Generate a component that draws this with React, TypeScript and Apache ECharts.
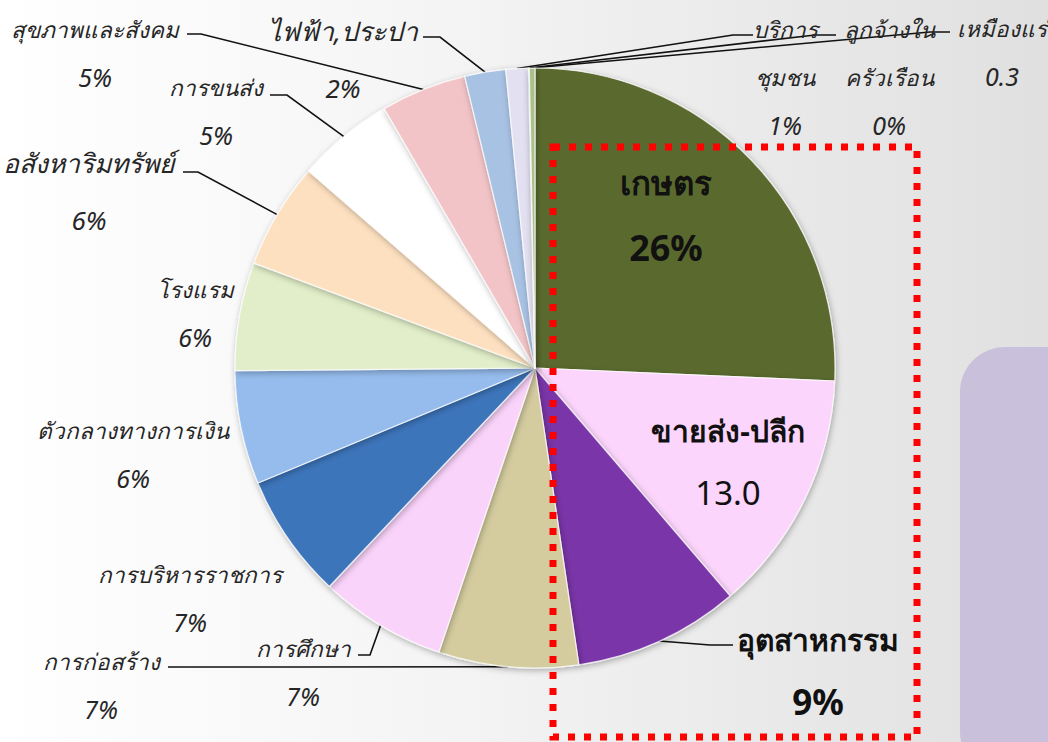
import React, { useEffect, useRef } from 'react';
import * as echarts from 'echarts';

// clockwise from 12 o'clock
const sectors = [
  'เกษตร', 'ขายส่ง-ปลีก', 'อุตสาหกรรม', 'การก่อสร้าง', 'การศึกษา', 'การบริหารราชการ',
  'ตัวกลางทางการเงิน', 'โรงแรม', 'อสังหาริมทรัพย์', 'การขนส่ง', 'สุขภาพและสังคม',
  'ไฟฟ้า,ประปา', 'บริการชุมชน', 'ลูกจ้างในครัวเรือน', 'เหมืองแร่',
];
const values = [25.6, 13.0, 8.9, 7.5, 6.8, 6.7, 6.1, 5.8, 5.7, 5.2, 4.6, 2.2, 1.2, 0.05, 0.3];
const valueLabels = ['26%', '13.0', '9%', '7%', '7%', '7%', '6%', '6%', '6%', '5%', '5%', '2%', '1%', '0%', '0.3'];
const labelNames = [
  'เกษตร', 'ขายส่ง-ปลีก', 'อุตสาหกรรม', 'การก่อสร้าง', 'การศึกษา', 'การบริหารราชการ',
  'ตัวกลางทางการเงิน', 'โรงแรม', 'อสังหาริมทรัพย์', 'การขนส่ง', 'สุขภาพและสังคม',
  'ไฟฟ้า,ประปา', 'บริการ\nชุมชน', 'ลูกจ้างใน\nครัวเรือน', 'เหมืองแร่',
];

// styling / layout (not data)
const colors = [
  '#5a6a2d', '#fcd5fc', '#7a35a8', '#d4cc9f', '#fad3fb', '#3d74bb', '#95bcec',
  '#e1eec9', '#fde0c0', '#ffffff', '#f2c4c7', '#a8c2e4', '#e3e1f1', '#f4f4f4', '#a9c18a',
];
// name style key, value style key
const labelKinds: [string, string][] = [
  ['kb', 'kbv'], ['nb', 'vr'], ['nb', 'vb'], ['n', 'v'], ['n', 'v'], ['n', 'v'],
  ['n', 'v'], ['n', 'v'], ['nl', 'vl'], ['n', 'v'], ['n', 'v'],
  ['nl', 'vl'], ['n', 'v'], ['n', 'v'], ['n', 'v'],
];
const labelAnchors = [
  [666, 215], [728, 461], [818, 670], [101, 685], [303, 672], [190, 598],
  [133, 454], [195, 313], [89, 191], [216, 111], [95, 53],
  [343, 59], [785, 77], [889, 77], [1002, 52],
];
const lineTails: (number[][] | null)[] = [
  null, null, [[710, 645], [733, 645]], [[300, 667], [168, 667]], [[370, 655], [358, 655]], null,
  null, null, [[198, 172], [183, 172]], [[287, 95], [270, 95]], [[201, 34], [187, 34]],
  [[440, 37], [423, 37]], [[733, 35], [753, 35]], [[815, 35], [836, 35]], [[930, 32], [950, 32]],
];

const FONT = "'Noto Sans', 'DejaVu Sans', sans-serif";

export default function App() {
  const ref = useRef<HTMLDivElement>(null);
  useEffect(() => {
    if (!ref.current) return;
    const chart = echarts.init(ref.current, undefined, { renderer: 'svg' });
    const data = sectors.map((name, i) => ({
      name,
      value: values[i],
      itemStyle: { color: colors[i] },
      labelLine: { show: !!lineTails[i] },
    }));
    chart.setOption({
      animation: false,
      backgroundColor: {
        type: 'linear', x: 0, y: 0, x2: 1, y2: 0,
        colorStops: [
          { offset: 0, color: '#ffffff' },
          { offset: 0.4, color: '#f5f5f5' },
          { offset: 1, color: '#e0e0e0' },
        ],
      },
      graphic: [
        {
          type: 'rect', z: 0,
          shape: { x: 960, y: 347, width: 140, height: 430, r: 45 },
          style: { fill: '#c9c1dc' },
        },
        {
          type: 'rect', z: 50,
          shape: { x: 553, y: 147, width: 364, height: 590 },
          style: { fill: 'none', stroke: '#ff0000', lineWidth: 7, lineDash: [7, 9] },
        },
      ],
      series: [
        {
          type: 'pie',
          center: [535, 368],
          radius: 300,
          startAngle: 90,
          clockwise: true,
          avoidLabelOverlap: false,
          itemStyle: {
            borderColor: 'rgba(255,255,255,0.75)',
            borderWidth: 1.2,
            shadowBlur: 6,
            shadowOffsetX: 1,
            shadowOffsetY: 2,
            shadowColor: 'rgba(0,0,0,0.3)',
          },
          label: {
            show: true,
            position: 'outside',
            fontFamily: FONT,
            formatter: (p: any) => {
              const [nk, vk] = labelKinds[p.dataIndex];
              return `{${nk}|${labelNames[p.dataIndex]}}\n{${vk}|${valueLabels[p.dataIndex]}}`;
            },
            rich: {
              n: { fontFamily: FONT, fontStyle: 'italic', fontSize: 22.5, color: '#262626', lineHeight: 48, align: 'center' },
              v: { fontFamily: FONT, fontStyle: 'italic', fontSize: 25, color: '#262626', lineHeight: 48, align: 'center' },
              nl: { fontFamily: FONT, fontStyle: 'italic', fontSize: 26.5, color: '#262626', lineHeight: 57, align: 'center' },
              vl: { fontFamily: FONT, fontStyle: 'italic', fontSize: 26, color: '#262626', lineHeight: 57, align: 'center' },
              kb: { fontFamily: FONT, fontWeight: 'bold', fontSize: 33, color: '#111', lineHeight: 65, align: 'center' },
              kbv: { fontFamily: FONT, fontWeight: 'bold', fontSize: 36, color: '#111', lineHeight: 65, align: 'center' },
              nb: { fontFamily: FONT, fontWeight: 'bold', fontSize: 30, color: '#111', lineHeight: 62, align: 'center' },
              vr: { fontFamily: FONT, fontSize: 33, color: '#111', lineHeight: 62, align: 'center' },
              vb: { fontFamily: FONT, fontWeight: 'bold', fontSize: 35, color: '#111', lineHeight: 62, align: 'center' },
            },
          },
          labelLine: {
            show: true,
            length: 10,
            length2: 10,
            lineStyle: { color: '#111', width: 1.6 },
          },
          labelLayout: (params: any) => {
            const i = params.dataIndex;
            const [x, y] = labelAnchors[i];
            const out: any = { x, y, align: 'center', verticalAlign: 'middle', hideOverlap: false };
            const tail = lineTails[i];
            if (tail && params.labelLinePoints && params.labelLinePoints[0]) {
              out.labelLinePoints = [params.labelLinePoints[0], tail[0], tail[1]];
            }
            return out;
          },
          data,
        },
      ],
    });
    return () => chart.dispose();
  }, []);
  return <div ref={ref} style={{ position: 'fixed', left: 0, top: 0, width: 1048, height: 742 }} />;
}
